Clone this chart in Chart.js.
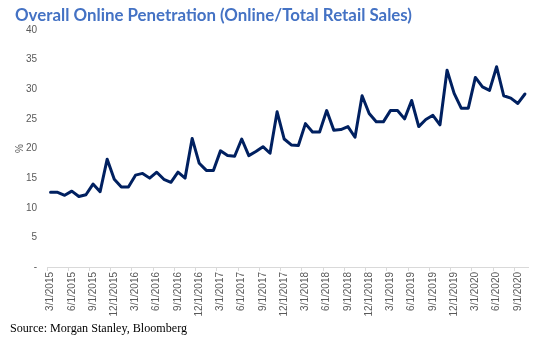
<!DOCTYPE html>
<html>
<head>
<meta charset="utf-8">
<script src="https://cdn.jsdelivr.net/npm/chart.js@4/dist/chart.umd.min.js"></script>
<style>
  html, body { margin: 0; padding: 0; background: #ffffff; }
  #wrap { position: relative; width: 538px; height: 341px; overflow: hidden; background: #fff; }
  #chart { position: absolute; left: 0; top: 0; }
  #title { position: absolute; left: 15px; top: 3px; white-space: nowrap;
           font-family: Lato, "Open Sans", sans-serif; font-weight: 700; font-size: 19px;
           color: #4472C4; line-height: 24px; }
  #source { position: absolute; left: 10px; top: 320px; white-space: nowrap;
            font-family: "Liberation Serif", "Times New Roman", serif; font-size: 12px;
            color: #000; line-height: 16px; }
</style>
</head>
<body>
<div id="wrap">
  <canvas id="chart" width="538" height="341"></canvas>
  <div id="title">Overall Online Penetration (Online/Total Retail Sales)</div>
  <div id="source">Source: Morgan Stanley, Bloomberg</div>
</div>
<script>
// Monthly categories, 3/1/2015 .. 10/1/2020
const categories = [
  "3/1/2015","4/1/2015","5/1/2015","6/1/2015","7/1/2015","8/1/2015","9/1/2015","10/1/2015","11/1/2015","12/1/2015",
  "1/1/2016","2/1/2016","3/1/2016","4/1/2016","5/1/2016","6/1/2016","7/1/2016","8/1/2016","9/1/2016","10/1/2016","11/1/2016","12/1/2016",
  "1/1/2017","2/1/2017","3/1/2017","4/1/2017","5/1/2017","6/1/2017","7/1/2017","8/1/2017","9/1/2017","10/1/2017","11/1/2017","12/1/2017",
  "1/1/2018","2/1/2018","3/1/2018","4/1/2018","5/1/2018","6/1/2018","7/1/2018","8/1/2018","9/1/2018","10/1/2018","11/1/2018","12/1/2018",
  "1/1/2019","2/1/2019","3/1/2019","4/1/2019","5/1/2019","6/1/2019","7/1/2019","8/1/2019","9/1/2019","10/1/2019","11/1/2019","12/1/2019",
  "1/1/2020","2/1/2020","3/1/2020","4/1/2020","5/1/2020","6/1/2020","7/1/2020","8/1/2020","9/1/2020","10/1/2020"
];

// Online penetration, %
const penetration = [
  12.6, 12.6, 12.1, 12.8, 11.9, 12.2, 14.0, 12.7, 18.2, 14.8,
  13.5, 13.5, 15.5, 15.8, 15.0, 16.0, 14.8, 14.3, 16.0, 15.0, 21.7, 17.5,
  16.3, 16.3, 19.6, 18.8, 18.7, 21.6, 18.8, 19.5, 20.3, 19.2, 26.2, 21.6,
  20.6, 20.5, 24.2, 22.8, 22.8, 26.4, 23.1, 23.2, 23.7, 21.9, 28.9, 25.9,
  24.5, 24.5, 26.4, 26.4, 25.0, 28.1, 23.7, 24.9, 25.6, 24.0, 33.2, 29.3,
  26.8, 26.8, 32.0, 30.4, 29.8, 33.8, 28.9, 28.5, 27.6, 29.2
];

const yTickValues = [0, 5, 10, 15, 20, 25, 30, 35, 40];

// fit title / source text to reference widths
function fitText(id, targetWidth) {
  const el = document.getElementById(id);
  const cs = getComputedStyle(el);
  let size = parseFloat(cs.fontSize);
  const w = el.getBoundingClientRect().width;
  if (w > 0) {
    size = size * targetWidth / w;
    el.style.fontSize = size.toFixed(2) + 'px';
  }
}
fitText('title', 397);
fitText('source', 177);

const greyText = '#595959';

new Chart(document.getElementById('chart'), {
  type: 'line',
  data: {
    labels: categories,
    datasets: [{
      label: 'Overall Online Penetration',
      data: penetration,
      borderColor: '#002060',
      backgroundColor: '#002060',
      borderWidth: 3,
      pointRadius: 0,
      pointHoverRadius: 0,
      tension: 0,
      fill: false,
      borderJoinStyle: 'round',
      borderCapStyle: 'round'
    }]
  },
  options: {
    responsive: false,
    devicePixelRatio: 1,
    animation: false,
    layout: { padding: { top: 30, right: 8, bottom: 0, left: 0 } },
    plugins: {
      legend: { display: false },
      title: { display: false },
      tooltip: { enabled: false }
    },
    scales: {
      x: {
        type: 'category',
        offset: true,
        border: { display: true, color: '#d9d9d9', width: 1 },
        grid: {
          display: true,
          offset: true,
          drawOnChartArea: false,
          drawTicks: true,
          tickLength: 4,
          color: (ctx) => (ctx.index % 3 === 0 ? '#d9d9d9' : 'rgba(0,0,0,0)')
        },
        ticks: {
          autoSkip: false,
          maxRotation: 90,
          minRotation: 90,
          padding: 1,
          color: greyText,
          font: { family: '"Liberation Sans Narrow", "Liberation Sans", sans-serif', size: 10 },
          callback: function (value, index) {
            return index % 3 === 0 ? this.getLabelForValue(value) : '';
          }
        },
        afterFit: (scale) => { scale.height = 74; }
      },
      y: {
        min: 0,
        max: 40,
        border: { display: false },
        grid: { display: false, drawTicks: false },
        afterBuildTicks: (scale) => { scale.ticks = yTickValues.map(v => ({ value: v })); },
        ticks: {
          padding: 10,
          color: greyText,
          font: { family: '"Liberation Sans", sans-serif', size: 10 },
          callback: (v) => (v === 0 ? '-' : String(v))
        },
        title: {
          display: true,
          text: '%',
          color: greyText,
          font: { family: '"Liberation Sans", sans-serif', size: 10 },
          padding: { top: 14, bottom: 0 }
        },
        afterFit: (scale) => { scale.width = 47; }
      }
    }
  }
});
</script>
</body>
</html>
